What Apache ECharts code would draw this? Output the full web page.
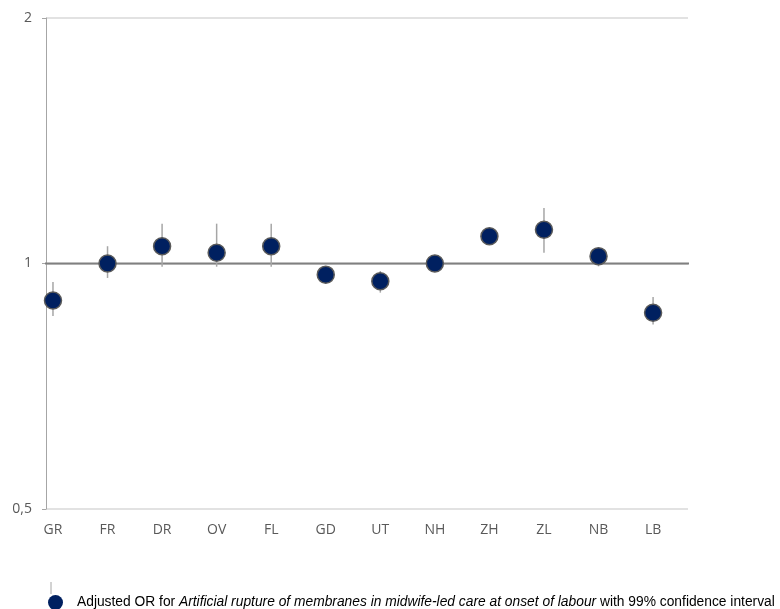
<!DOCTYPE html>
<html>
<head>
<meta charset="utf-8">
<script src="https://cdn.jsdelivr.net/npm/echarts@6/dist/echarts.min.js"></script>
<style>
html,body{margin:0;padding:0;background:#fff;}
#chart{width:780px;height:609px;}
</style>
</head>
<body>
<div id="chart"></div>
<script>
const categories = ['GR','FR','DR','OV','FL','GD','UT','NH','ZH','ZL','NB','LB'];
const oddsRatio = [0.901, 1.000, 1.050, 1.031, 1.050, 0.969, 0.951, 1.000, 1.080, 1.100, 1.021, 0.870];
const ciLow  = [0.862, 0.960, 0.991, 0.991, 0.991, 0.955, 0.921, 0.985, 1.065, 1.031, 0.992, 0.842];
const ciHigh = [0.949, 1.050, 1.119, 1.119, 1.119, 0.985, 0.979, 1.015, 1.095, 1.170, 1.045, 0.910];
const yTicks = [0.5, 1, 2];
const refValue = 1;
const seriesName = 'Adjusted OR';

const chart = echarts.init(document.getElementById('chart'));
const xs = categories.map((c, i) => i + 1);

chart.setOption({
  animation: false,
  backgroundColor: '#fff',
  grid: { left: 46, right: 92, top: 18, bottom: 100 },
  xAxis: {
    type: 'value',
    min: 0.872,
    max: 12.64,
    axisLine: { show: false },
    axisTick: { show: false },
    splitLine: { show: false },
    axisLabel: {
      customValues: xs,
      formatter: v => categories[Math.round(v) - 1] || '',
      color: '#595959',
      fontFamily: 'Open Sans',
      fontSize: 14,
      margin: 14
    }
  },
  yAxis: {
    type: 'log',
    logBase: 2,
    min: yTicks[0],
    max: yTicks[yTicks.length - 1],
    axisLine: { show: true, lineStyle: { color: '#a6a6a6', width: 1 } },
    axisTick: { show: true, length: 4, lineStyle: { color: '#a6a6a6' } },
    splitLine: { show: true, lineStyle: { color: '#d9d9d9', width: 1.5 } },
    axisLabel: {
      formatter: v => String(Math.round(v * 100) / 100).replace('.', ','),
      color: '#595959',
      fontFamily: 'Open Sans',
      fontSize: 14,
      margin: 14
    }
  },
  legend: {
    left: 43,
    top: 590,
    itemWidth: 15,
    itemHeight: 15,
    data: [{ name: seriesName, icon: 'circle', itemStyle: { borderWidth: 0 } }],
    formatter: () => '{n0|Adjusted OR for }{i|Artificial rupture of membranes in midwife-led care at onset of labour}{n| with 99% confidence interval}',
    textStyle: {
      color: '#000',
      fontFamily: 'Liberation Sans',
      fontSize: 13.8,
      rich: {
        n0: { fontFamily: 'Liberation Sans', fontSize: 13.8, color: '#000', padding: [0, 0, 0, 9] },
        n: { fontFamily: 'Liberation Sans', fontSize: 13.8, color: '#000' },
        i: { fontFamily: 'Liberation Sans', fontSize: 13.8, color: '#000', fontStyle: 'italic' }
      }
    }
  },
  graphic: [{
    type: 'line',
    shape: { x1: 51, y1: 582, x2: 51, y2: 594 },
    style: { stroke: '#a6a6a6', lineWidth: 1 },
    z: 1
  }],
  series: [
    {
      type: 'line',
      name: 'ref',
      data: [[0.8, refValue], [12.72, refValue]],
      symbol: 'none',
      clip: false,
      lineStyle: { color: '#808080', width: 2 },
      z: 2,
      silent: true
    },
    {
      type: 'custom',
      name: 'ci',
      data: xs.map((x, i) => [x, ciLow[i], ciHigh[i]]),
      renderItem: (params, api) => {
        const x = api.value(0);
        const lo = api.coord([x, api.value(1)]);
        const hi = api.coord([x, api.value(2)]);
        return {
          type: 'line',
          shape: { x1: lo[0], y1: lo[1], x2: hi[0], y2: hi[1] },
          style: { stroke: '#a6a6a6', lineWidth: 1.5 }
        };
      },
      z: 3,
      silent: true
    },
    {
      type: 'scatter',
      name: seriesName,
      data: xs.map((x, i) => [x, oddsRatio[i]]),
      symbol: 'circle',
      symbolSize: 17,
      itemStyle: { color: '#002060', borderColor: '#5a5a5a', borderWidth: 1.5, opacity: 1 },
      z: 4
    }
  ]
});
</script>
</body>
</html>
